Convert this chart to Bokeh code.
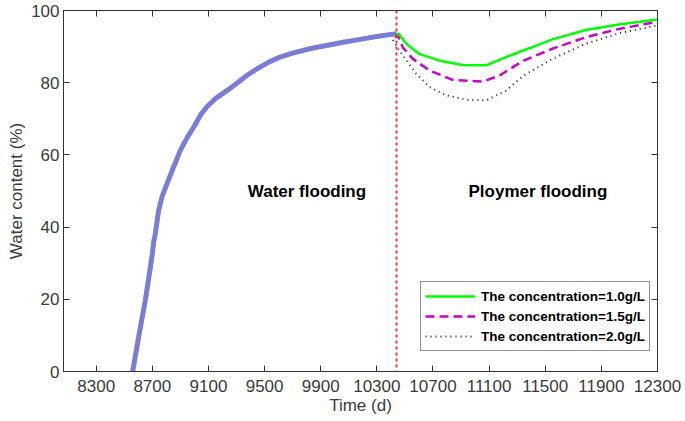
from bokeh.plotting import figure
from bokeh.models import Range1d, FixedTicker, LinearAxis, Span, Label, Legend, LegendItem
from bokeh.embed import file_html
from bokeh.resources import INLINE

# ---- data ----
x_ticks = [8300, 8700, 9100, 9500, 9900, 10300, 10700, 11100, 11500, 11900, 12300]
y_ticks = [0, 20, 40, 60, 80, 100]

water_t = [8560, 8600, 8650, 8675, 8700, 8710, 8721, 8745, 8770, 8804, 8850, 8899, 8948,
           9000, 9041, 9090, 9150, 9231, 9300, 9373, 9444, 9480, 9530, 9610, 9700, 9820,
           9940, 10060, 10180, 10300, 10440]
water_v = [0, 9, 19.7, 26, 32.6, 36, 38.1, 44.6, 48.5, 52, 56.5, 61.2, 64.8,
           68, 70.9, 73.4, 75.6, 77.8, 79.8, 82.0, 83.8, 84.6, 85.7, 87.1, 88.2, 89.4,
           90.3, 91.2, 92.0, 92.8, 93.6]

c10_t = [10440, 10455, 10510, 10600, 10750, 10910, 11080, 11220, 11390, 11550, 11790, 12025, 12300]
c10_v = [93.3, 93.6, 90.8, 88.0, 86.1, 84.9, 84.8, 87.1, 89.6, 92.0, 94.6, 96.1, 97.5]

c15_t = [10430, 10448, 10485, 10557, 10675, 10840, 11055, 11175, 11340, 11550, 11790, 12025, 12300]
c15_v = [92.5, 93.3, 89.8, 86.6, 83.4, 80.8, 80.3, 82.0, 86.0, 89.4, 92.6, 94.9, 96.9]

c20_t = [10415, 10460, 10510, 10580, 10675, 10795, 10935, 11080, 11220, 11340, 11550, 11790, 12025, 12300]
c20_v = [91.8, 88.9, 86.3, 82.5, 78.8, 76.5, 75.3, 75.1, 77.8, 81.8, 86.6, 90.8, 93.7, 95.9]

polymer_start = 10440
labels = ["The concentration=1.0g/L", "The concentration=1.5g/L", "The concentration=2.0g/L"]

FONT = "Liberation Sans"
AX = "#333333"

p = figure(width=685, height=421, x_range=Range1d(8067, 12300), y_range=Range1d(0, 100),
           output_backend="svg", toolbar_location=None,
           min_border_left=63, min_border_right=28, min_border_top=10, min_border_bottom=50)
p.xgrid.visible = False
p.ygrid.visible = False
p.outline_line_color = AX
p.outline_line_width = 1
p.background_fill_color = "white"
p.border_fill_color = "white"

for ax in (p.xaxis[0], p.yaxis[0]):
    ax.axis_line_color = AX
    ax.major_tick_line_color = AX
    ax.major_tick_in = 6
    ax.major_tick_out = 0
    ax.minor_tick_line_color = None
    ax.major_label_text_font = FONT
    ax.major_label_text_font_size = "17px"
    ax.major_label_text_color = "#3a3a3a"
    ax.axis_label_text_font = FONT
    ax.axis_label_text_font_size = "17px"
    ax.axis_label_text_font_style = "normal"
    ax.axis_label_text_color = "#3a3a3a"

p.xaxis[0].ticker = FixedTicker(ticks=x_ticks)
p.yaxis[0].ticker = FixedTicker(ticks=y_ticks)
p.xaxis[0].axis_label = "Time (d)"
p.yaxis[0].axis_label = "Water content (%)"
p.xaxis[0].major_label_standoff = 8
p.xaxis[0].axis_label_standoff = 1
p.yaxis[0].major_label_standoff = 4
p.yaxis[0].axis_label_standoff = 2

top = LinearAxis(ticker=FixedTicker(ticks=x_ticks),
                 major_label_overrides={t: "" for t in x_ticks})
right = LinearAxis(ticker=FixedTicker(ticks=y_ticks),
                   major_label_overrides={t: "" for t in y_ticks})
for ax in (top, right):
    ax.axis_line_color = AX
    ax.major_tick_line_color = AX
    ax.major_tick_in = 6
    ax.major_tick_out = 0
    ax.minor_tick_line_color = None
    ax.major_label_standoff = 0
p.add_layout(top, "above")
p.add_layout(right, "right")

# polymer injection start
p.add_layout(Span(location=polymer_start, dimension="height", line_color="#ff3030",
                  line_width=2, line_dash="3 3"))

# water flooding (green underneath, blue thick on top)
p.line(water_t, water_v, line_color="#00ff00", line_width=2)
p.line(water_t, water_v, line_color="#7a7dd6", line_width=5, line_join="round")

r20 = p.line(c20_t, c20_v, line_color="#222222", line_width=2, line_dash="1 4")
r15 = p.line(c15_t, c15_v, line_color="#c800c8", line_width=2.5, line_dash="9 5")
r10 = p.line(c10_t, c10_v, line_color="#00ff00", line_width=2.5)

p.add_layout(Label(x=9802, y=50, text="Water flooding", text_font=FONT, text_font_size="17px",
                   text_font_style="bold", text_align="center", text_baseline="middle",
                   text_color="black"))
p.add_layout(Label(x=11448, y=50, text="Ploymer flooding", text_font=FONT, text_font_size="17px",
                   text_font_style="bold", text_align="center", text_baseline="middle",
                   text_color="black"))

legend = Legend(items=[LegendItem(label=labels[0], renderers=[r10]),
                       LegendItem(label=labels[1], renderers=[r15]),
                       LegendItem(label=labels[2], renderers=[r20])],
                location=(357, 20))
legend.label_text_font = FONT
legend.label_text_font_size = "13.5px"
legend.label_text_font_style = "bold"
legend.label_text_color = "black"
legend.label_height = 20
legend.glyph_height = 20
legend.glyph_width = 50
legend.label_standoff = 6
legend.spacing = 0
legend.padding = 4
legend.margin = 0
legend.border_line_color = "#222222"
legend.border_line_width = 1
legend.background_fill_alpha = 1
p.add_layout(legend)

open("out.html", "w").write(file_html(p, INLINE))
